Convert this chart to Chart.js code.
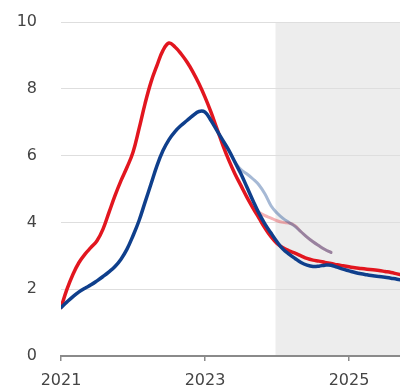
<!DOCTYPE html>
<html>
<head>
<meta charset="utf-8">
<script src="https://cdn.jsdelivr.net/npm/chart.js@4"></script>
<style>
  html, body { margin: 0; padding: 0; background: #ffffff; }
  #wrap { width: 400px; height: 385px; }
</style>
</head>
<body>
<div id="wrap"><canvas id="c" width="400" height="385"></canvas></div>
<script>
// Monthly readings, month 0 = January 2021
const firstYear = 2021;
const monthsShown = 56.5;
const forecastStart = 35.75;       // shaded projection period begins here
const yearTickMonths = [0, 24, 48];
const yTicks = [0, 2, 4, 6, 8, 10];

const redSeries = [
  1.45, 2.0, 2.45, 2.8, 3.05, 3.25, 3.45, 3.8, 4.3, 4.8,
  5.25, 5.65, 6.1, 6.8, 7.55, 8.2, 8.7, 9.15, 9.37, 9.25,
  9.05, 8.8, 8.5, 8.15, 7.75, 7.3, 6.8, 6.3, 5.85, 5.45,
  5.1, 4.75, 4.43, 4.13, 3.83, 3.57, 3.37, 3.24, 3.15, 3.08,
  3.0, 2.92, 2.87, 2.84, 2.8, 2.77, 2.73, 2.7, 2.67, 2.64,
  2.62, 2.6, 2.58, 2.56, 2.53, 2.5, 2.46, 2.42
];
const blueSeries = [
  1.45, 1.62, 1.78, 1.92, 2.03, 2.13, 2.25, 2.38, 2.52, 2.68,
  2.9, 3.2, 3.6, 4.05, 4.6, 5.15, 5.7, 6.15, 6.48, 6.72,
  6.9, 7.05, 7.2, 7.32, 7.3, 7.05, 6.75, 6.45, 6.15, 5.8,
  5.45, 5.05, 4.65, 4.27, 3.95, 3.68, 3.42, 3.2, 3.05, 2.92,
  2.8, 2.72, 2.68, 2.69, 2.72, 2.72, 2.66, 2.6, 2.55, 2.5,
  2.46, 2.43, 2.4, 2.38, 2.36, 2.33, 2.3, 2.26
];
// Earlier projections, starting where they leave the outturn lines
const paleBlueStart = 29;
const paleBlueSeries = [
  5.8, 5.58, 5.45, 5.3, 5.12, 4.85, 4.5, 4.28, 4.12, 4.0,
  3.88, 3.72, 3.56, 3.42, 3.3, 3.19, 3.1
];
const paleRedStart = 32;
const paleRedSeries = [
  4.43, 4.3, 4.2, 4.13, 4.05, 4.0, 3.98, 3.9, 3.72, 3.56,
  3.42, 3.3, 3.19, 3.1
];

const toPoints = (vals, start) => vals.map((v, i) => ({ x: start + i, y: v }));

const shadePlugin = {
  id: 'projectionShade',
  beforeDraw(chart) {
    const { ctx, chartArea, scales } = chart;
    const x0 = scales.x.getPixelForValue(forecastStart);
    ctx.save();
    ctx.fillStyle = '#ededed';
    ctx.fillRect(x0, chartArea.top, chartArea.right - x0, chartArea.bottom - chartArea.top);
    ctx.restore();
  }
};

const font = { family: '"DejaVu Sans", sans-serif', size: 16 };

new Chart(document.getElementById('c'), {
  type: 'line',
  data: {
    datasets: [
      { data: toPoints(blueSeries, 0), borderColor: '#0f3f8c', borderWidth: 3.5 },
      { data: toPoints(redSeries, 0), borderColor: '#e2161f', borderWidth: 3.5 },
      { data: toPoints(paleBlueSeries, paleBlueStart), borderColor: 'rgba(20,70,145,0.38)', borderWidth: 3 },
      { data: toPoints(paleRedSeries, paleRedStart), borderColor: 'rgba(226,22,31,0.33)', borderWidth: 3 }
    ]
  },
  plugins: [shadePlugin],
  options: {
    responsive: false,
    animation: false,
    events: [],
    layout: { autoPadding: false, padding: { top: 22, right: 0, left: 0, bottom: 0 } },
    elements: {
      point: { radius: 0 },
      line: { tension: 0.4, borderCapStyle: 'round', borderJoinStyle: 'round' }
    },
    plugins: { legend: { display: false }, tooltip: { enabled: false } },
    scales: {
      x: {
        type: 'linear',
        min: 0,
        max: monthsShown,
        afterBuildTicks: s => { s.ticks = yearTickMonths.map(v => ({ value: v })); },
        afterFit: s => { s.height = 29; s.paddingLeft = 0; s.paddingRight = 0; },
        ticks: {
          autoSkip: false,
          maxRotation: 0,
          padding: 10,
          color: '#444',
          font,
          callback: v => String(firstYear + v / 12)
        },
        grid: { drawOnChartArea: false, drawTicks: true, tickLength: 5, color: '#8a8a8a', lineWidth: 1.5 },
        border: { display: true, color: '#8a8a8a', width: 2 }
      },
      y: {
        min: 0,
        max: 10,
        afterBuildTicks: s => { s.ticks = yTicks.map(v => ({ value: v })); },
        afterFit: s => { s.width = 61; s.paddingTop = 0; s.paddingBottom = 0; },
        ticks: { padding: 24, color: '#444', font },
        grid: { drawTicks: false, color: '#dedede', lineWidth: 1 },
        border: { display: false }
      }
    }
  }
});
</script>
</body>
</html>
